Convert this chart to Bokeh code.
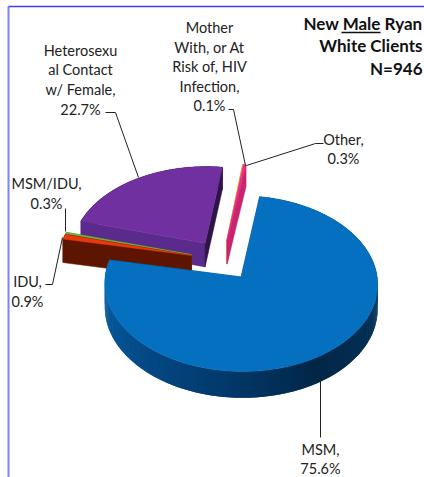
import math
from bokeh.plotting import figure
from bokeh.models import Range1d
from bokeh.core.properties import value
from bokeh.embed import file_html
from bokeh.resources import INLINE

categories = ["MSM", "IDU", "MSM/IDU", "Heterosexual Contact w/ Female", "Mother With, or At Risk of, HIV Infection", "Other"]
shares = [75.6, 0.9, 0.3, 22.7, 0.1, 0.3]
top_colors = ["#0570c0", "#e8380c", "#76b043", "#7030a0", "#f2a33a", "#e5308c"]
start_face = ["#03406f", "#5e1500", "#3f6a20", "#2e1546", "#c08020", "#c8246f"]
end_face = ["#03406f", "#5e1500", "#3f6a20", "#5a2a8c", "#c08020", "#d42a80"]
label_lines = {
    "MSM": (["MSM,", "75.6%"], 320),
    "IDU": (["IDU,", "0.9%"], 27),
    "MSM/IDU": (["MSM/IDU,", "0.3%"], 46),
    "Heterosexual Contact w/ Female": (["Heterosexu", "al Contact", "w/ Female,", "22.7%"], 80),
    "Mother With, or At Risk of, HIV Infection": (["Mother", "With, or At", "Risk of, HIV", "Infection,", "0.1%"], 209),
    "Other": (["Other,", "0.3%"], 343),
}
title_lines = ["New Male Ryan", "White Clients", "N=946"]

W, H = 424, 477
CX, CY, A, B, K, DEPTH, EXPLODE, START = 222, 259.5, 134, 84.8, 0.0746, 24, 0.24, 9.0
FONT = value("Lato")

p = figure(width=W, height=H, output_backend="svg", toolbar_location=None, min_border=0,
           x_range=Range1d(0, W), y_range=Range1d(H, 0), outline_line_color=None,
           margin=(0, 0, 0, 0))
p.axis.visible = False
p.grid.visible = False


def project(u, v, z=0.0):
    s = 1 / (1 - K * v)
    return CX + A * u * s, CY + B * v * s + z * s


def lerp_color(stops, t):
    for (t0, c0), (t1, c1) in zip(stops, stops[1:]):
        if t0 <= t <= t1:
            f = (t - t0) / (t1 - t0)
            rgb = [round(int(c0[i:i + 2], 16) * (1 - f) + int(c1[i:i + 2], 16) * f) for i in (1, 3, 5)]
            return "#%02x%02x%02x" % tuple(rgb)
    return stops[-1][1]


msm_wall = [(0, "#07375e"), (90, "#07375e"), (150, "#022748"), (185, "#03386a"), (235, "#05508f"), (281, "#0b62a8"), (360, "#0b62a8")]
total = sum(shares)
slices = []
a0 = START
for name, share, top, sf, ef in zip(categories, shares, top_colors, start_face, end_face):
    a1 = a0 + share / total * 360
    slices.append((name, a0, a1, top, sf, ef))
    a0 = a1


def draw(sl):
    name, a0, a1, top, sf, ef = sl
    mid = math.radians((a0 + a1) / 2)
    ox, oy = EXPLODE * math.sin(mid), -EXPLODE * math.cos(mid)
    n = max(2, int((a1 - a0) / 0.75))
    angles = [a0 + (a1 - a0) * i / n for i in range(n + 1)]
    rim = [(ox + math.sin(math.radians(t)), oy - math.cos(math.radians(t))) for t in angles]
    # outer wall, painted with each segment running under the next one
    for i in range(n):
        (u0, v0), (u1, v1) = rim[i], rim[min(i + 2, n)]
        q = [project(u0, v0), project(u1, v1), project(u1, v1, DEPTH), project(u0, v0, DEPTH)]
        col = lerp_color(msm_wall, angles[i]) if name == "MSM" else sf
        p.patch([c[0] for c in q], [c[1] for c in q], fill_color=col, line_color=None)
    # radial faces
    for (u, v), col in ((rim[0], ef if name != "MSM" else sf), (rim[-1], sf)):
        q = [project(ox, oy), project(u, v), project(u, v, DEPTH), project(ox, oy, DEPTH)]
        p.patch([c[0] for c in q], [c[1] for c in q], fill_color=col, line_color=col, line_width=0.5)
    # top face
    q = [project(ox, oy)] + [project(u, v) for u, v in rim]
    p.patch([c[0] for c in q], [c[1] for c in q], fill_color=top, line_color=top, line_width=0.5)


by_name = {s[0]: s for s in slices}
for nm in ["Heterosexual Contact w/ Female", "Mother With, or At Risk of, HIV Infection", "Other", "MSM/IDU", "IDU", "MSM"]:
    draw(by_name[nm])

# frame
p.line([8, 8], [6, H], line_color="#8080ff", line_width=2)
p.line([8, W], [6, 6], line_color="#4040ff", line_width=1.5)

# leaders
leaders = [
    ([105, 115, 138], [112, 112, 177]),
    ([228, 233, 245], [109, 109, 165]),
    ([323, 315, 246], [143, 143, 165]),
    ([65, 65], [208, 231]),
    ([45, 52, 62], [284, 284, 237]),
    ([320, 320], [379, 437]),
]
for lx, ly in leaders:
    p.line(lx, ly, line_color="#222222", line_width=1)

# labels
label_y = {
    "MSM": [449, 468],
    "IDU": [281, 301],
    "MSM/IDU": [183, 203],
    "Heterosexual Contact w/ Female": [50, 69, 89, 109],
    "Mother With, or At Risk of, HIV Infection": [27, 47, 66, 86, 105],
    "Other": [139, 158],
}
for nm, (lines, cx) in label_lines.items():
    p.text([cx] * len(lines), label_y[nm], text=lines, text_align="center", text_baseline="middle",
           text_font=FONT, text_font_size="14.5px", text_color="#222222")

p.text([422] * 3, [23, 45, 68], text=title_lines, text_align="right", text_baseline="middle",
       text_font=FONT, text_font_size="17px", text_font_style="bold", text_color="#111111")
p.line([341, 380], [32, 32], line_color="#111111", line_width=1.5)

open("out.html", "w").write(file_html(p, INLINE))
